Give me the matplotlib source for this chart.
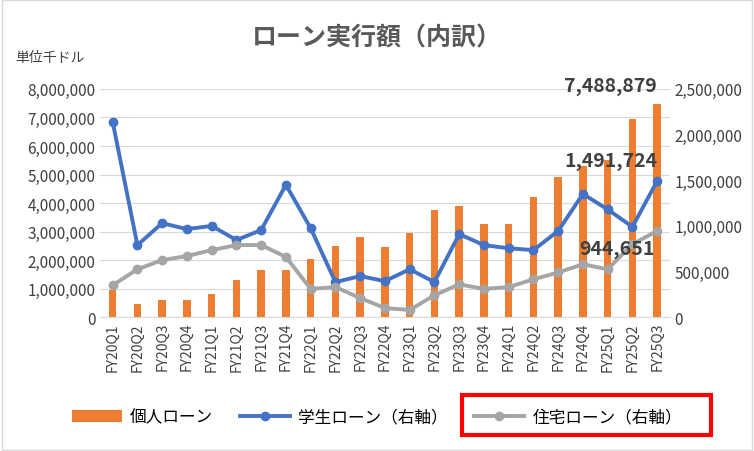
import matplotlib.pyplot as plt
import matplotlib.patches as mpatches
from matplotlib.ticker import FuncFormatter

plt.rcParams['font.family'] = ['Noto Sans CJK JP', 'DejaVu Sans']

quarters = ['FY20Q1', 'FY20Q2', 'FY20Q3', 'FY20Q4', 'FY21Q1', 'FY21Q2', 'FY21Q3', 'FY21Q4',
            'FY22Q1', 'FY22Q2', 'FY22Q3', 'FY22Q4', 'FY23Q1', 'FY23Q2', 'FY23Q3', 'FY23Q4',
            'FY24Q1', 'FY24Q2', 'FY24Q3', 'FY24Q4', 'FY25Q1', 'FY25Q2', 'FY25Q3']
personal = [950000, 450000, 620000, 620000, 800000, 1300000, 1650000, 1650000,
            2050000, 2500000, 2800000, 2450000, 2950000, 3750000, 3900000, 3250000,
            3250000, 4200000, 4900000, 5300000, 5500000, 6950000, 7488879]
student = [2140000, 790000, 1030000, 965000, 1000000, 845000, 955000, 1450000,
           975000, 385000, 450000, 395000, 525000, 385000, 910000, 790000,
           755000, 735000, 945000, 1350000, 1180000, 990000, 1491724]
housing = [350000, 525000, 625000, 670000, 735000, 790000, 790000, 660000,
           310000, 330000, 210000, 100000, 80000, 240000, 360000, 310000,
           330000, 415000, 490000, 580000, 525000, 800000, 944651]

fig = plt.figure(figsize=(7.54, 4.52), dpi=100)
ax = fig.add_axes([0.133, 0.296, 0.755, 0.505])
ax2 = ax.twinx()
x = range(len(quarters))

ax.bar(x, personal, width=0.3, color='#ED7D31', label='個人ローン')
ax2.plot(x, student, color='#4472C4', lw=2.8, marker='o', ms=6, label='学生ローン（右軸）')
ax2.plot(x, housing, color='#A5A5A5', lw=2.8, marker='o', ms=6, label='住宅ローン（右軸）')

ax.set_ylim(0, 8000000)
ax.set_yticks(range(0, 8000001, 1000000))
ax2.set_ylim(0, 2500000)
ax2.set_yticks(range(0, 2500001, 500000))
fmt = FuncFormatter(lambda v, p: f'{int(v):,}')
ax.yaxis.set_major_formatter(fmt)
ax2.yaxis.set_major_formatter(fmt)
ax.set_xlim(-0.5, len(quarters) - 0.5)
ax.set_xticks(list(x))
ax.set_xticklabels(quarters, rotation=90, fontsize=10, color='#404040')
for a in (ax, ax2):
    a.tick_params(axis='y', labelsize=11, colors='#404040', length=0)
    for s in a.spines.values():
        s.set_visible(False)
ax.tick_params(axis='x', length=0)
ax.spines['bottom'].set_visible(True)
ax.spines['bottom'].set_color('#D9D9D9')
ax.yaxis.grid(True, color='#D9D9D9', lw=0.8)
ax.set_axisbelow(True)

ax.annotate(f'{personal[-1]:,}', (22, personal[-1]), xytext=(0, 6), textcoords='offset points',
            ha='right', va='bottom', fontsize=14, fontweight='bold', color='#404040')
ax2.annotate(f'{student[-1]:,}', (22, student[-1]), xytext=(0, 8), textcoords='offset points',
             ha='right', va='bottom', fontsize=14, fontweight='bold', color='#404040')
ax2.annotate(f'{housing[-1]:,}', (22, housing[-1]), xytext=(-2, -6), textcoords='offset points',
             ha='right', va='top', fontsize=14, fontweight='bold', color='#404040')

fig.text(0.5, 0.915, 'ローン実行額（内訳）', ha='center', va='center', fontsize=18,
         fontweight='bold', color='#595959')
fig.text(0.02, 0.862, '単位千ドル', fontsize=10, color='#404040')

h1, l1 = ax.get_legend_handles_labels()
h2, l2 = ax2.get_legend_handles_labels()
fig.legend(h1 + h2, l1 + l2, loc='center', bbox_to_anchor=(0.50, 0.075), ncol=3,
           frameon=False, fontsize=12, columnspacing=1.6, handlelength=3, handletextpad=0.5)
fig.patches.append(mpatches.Rectangle((0.613, 0.035), 0.33, 0.09, transform=fig.transFigure,
                                      fill=False, edgecolor='#FF0000', lw=3))
fig.patches.append(mpatches.Rectangle((0.002, 0.002), 0.996, 0.996, transform=fig.transFigure,
                                      fill=False, edgecolor='#D9D9D9', lw=1))
fig.savefig('out.png', dpi=100)
